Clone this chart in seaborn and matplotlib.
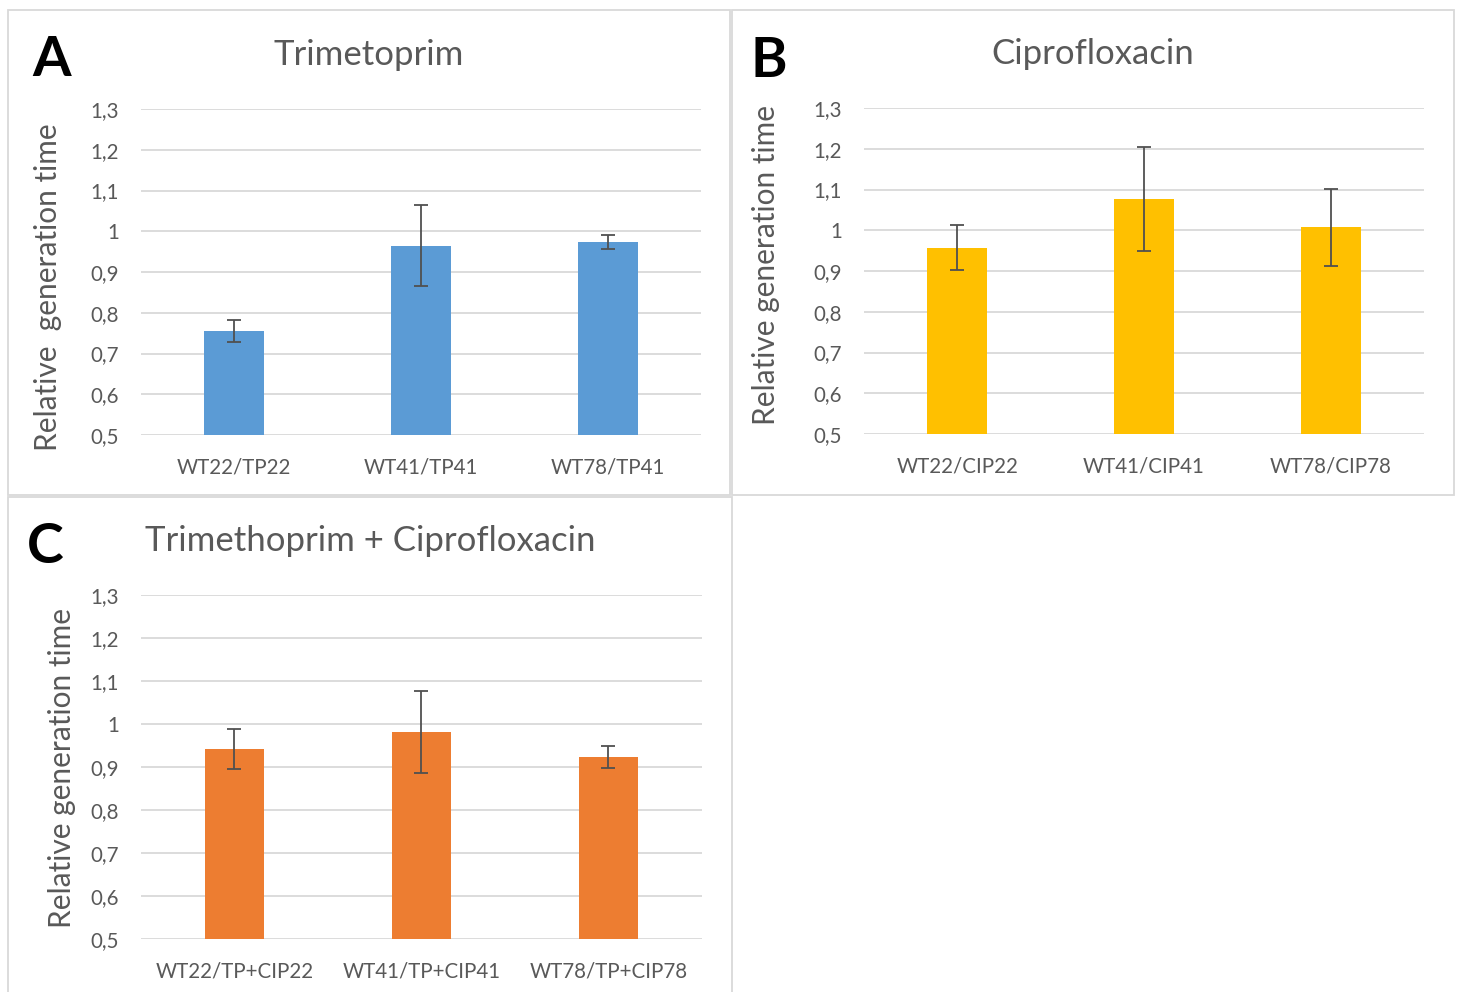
import numpy as np
import seaborn as sns
import matplotlib.pyplot as plt
from matplotlib.patches import Rectangle
from matplotlib.ticker import FuncFormatter

# Datos
cats_a = ['WT22/TP22', 'WT41/TP41', 'WT78/TP41']
vals_a = [0.755, 0.965, 0.974]
err_a = [0.027, 0.100, 0.017]

cats_b = ['WT22/CIP22', 'WT41/CIP41', 'WT78/CIP78']
vals_b = [0.957, 1.077, 1.007]
err_b = [0.055, 0.127, 0.094]

cats_c = ['WT22/TP+CIP22', 'WT41/TP+CIP41', 'WT78/TP+CIP78']
vals_c = [0.942, 0.981, 0.924]
err_c = [0.047, 0.095, 0.026]

titles = ['Trimetoprim', 'Ciprofloxacin', 'Trimethoprim + Ciprofloxacin']
letters = ['A', 'B', 'C']
ylabels = ['Relative  generation time', 'Relative generation time', 'Relative generation time']
colors = ['#5B9BD5', '#FFC000', '#ED7D31']

sns.set_style("white")
plt.rcParams['font.family'] = ['Lato', 'DejaVu Sans']

W, H = 1461, 992
fig = plt.figure(figsize=(W / 100, H / 100), dpi=100)

def fx(px):
    return px / W

def fy(py):
    return 1 - py / H

# Marcos de cada panel (x0, y0, x1, y1 en píxeles)
boxes = [(8, 10, 730, 495), (732, 10, 1454, 495), (8, 497, 732, 1000)]
for x0, y0, x1, y1 in boxes:
    fig.patches.append(Rectangle((fx(x0), fy(y1)), fx(x1 - x0), (y1 - y0) / H,
                                 transform=fig.transFigure, fill=False,
                                 edgecolor='#D9D9D9', linewidth=1.3))

# Posiciones de los ejes (izq, arriba, der, abajo en píxeles)
axes_px = [(141, 109, 701, 435), (864, 108, 1424, 434), (141, 595, 702, 939)]
title_pos = [(369, 55), (1093, 54), (370, 541)]
letter_pos = [(52, 60), (769, 61), (45, 547)]
ylabel_pos = [(48, 287), (766, 265), (62, 768)]

data = [(cats_a, vals_a, err_a), (cats_b, vals_b, err_b), (cats_c, vals_c, err_c)]

fmt = FuncFormatter(lambda v, p: ('%g' % round(v, 1)).replace('.', ','))

for i, (cats, vals, errs) in enumerate(data):
    l, t, r, b = axes_px[i]
    ax = fig.add_axes([fx(l), fy(b), fx(r - l), (b - t) / H])
    sns.barplot(x=cats, y=vals, color=colors[i], width=0.32, saturation=1,
                errorbar=None, linewidth=0, ax=ax, zorder=2)
    ax.errorbar(np.arange(len(cats)), vals, yerr=errs, fmt='none',
                ecolor='#505050', elinewidth=1.3, capsize=5, capthick=1.3, zorder=3)
    ax.set_ylim(0.5, 1.3)
    ax.set_xlim(-0.5, len(cats) - 0.5)
    ax.set_yticks(np.arange(0.5, 1.31, 0.1))
    ax.yaxis.set_major_formatter(fmt)
    ax.grid(axis='y', color='#D9D9D9', linewidth=1.3, zorder=0)
    ax.set_axisbelow(True)
    for s in ax.spines.values():
        s.set_visible(False)
    ax.tick_params(axis='both', length=0, labelsize=14.8, colors='#595959')
    ax.tick_params(axis='y', pad=16)
    ax.tick_params(axis='x', pad=16)
    ax.set_xlabel('')
    ax.set_ylabel('')

    fig.text(fx(title_pos[i][0]), fy(title_pos[i][1]), titles[i], ha='center', va='center',
             fontsize=25, color='#595959')
    fig.text(fx(letter_pos[i][0]), fy(letter_pos[i][1]), letters[i], ha='center', va='center',
             fontsize=40, fontweight='bold', color='black')
    fig.text(fx(ylabel_pos[i][0]), fy(ylabel_pos[i][1]), ylabels[i], ha='center', va='center',
             rotation=90, fontsize=21.5, color='#595959')

fig.savefig('out.png', dpi=100)
